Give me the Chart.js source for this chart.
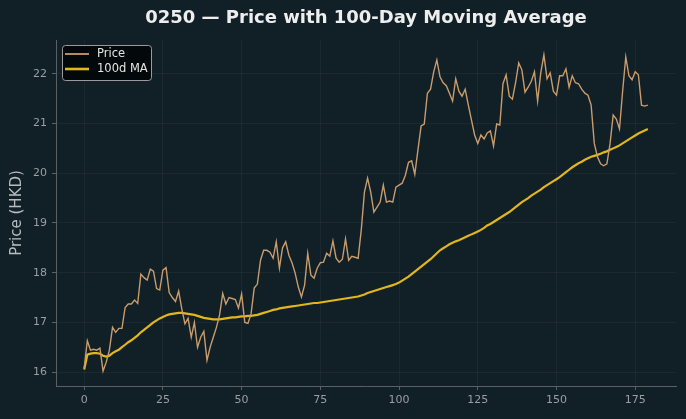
<!DOCTYPE html>
<html>
<head>
<meta charset="utf-8">
<script src="https://cdn.jsdelivr.net/npm/chart.js@4"></script>
<style>
  html, body { margin: 0; padding: 0; background: #111f27; }
  #wrap { width: 686px; height: 419px; }
</style>
</head>
<body>
<div id="wrap"><canvas id="myChart" width="686" height="419"></canvas></div>
<script>
// dias de negociacion (eje x)
const days = Array.from({ length: 180 }, (_, i) => i);

// precio de cierre
const price = [
  16.08, 16.63, 16.44, 16.46, 16.44, 16.48, 16.02, 16.2, 16.44, 16.9,
  16.8, 16.88, 16.88, 17.3, 17.37, 17.37, 17.45, 17.38, 17.97, 17.9,
  17.85, 18.07, 18.03, 17.68, 17.65, 18.05, 18.1, 17.6, 17.5, 17.42,
  17.63, 17.27, 16.97, 17.08, 16.7, 17.0, 16.5, 16.7, 16.82, 16.24,
  16.5, 16.7, 16.9, 17.15, 17.58, 17.37, 17.5, 17.48, 17.46, 17.29,
  17.57, 17.0, 16.98, 17.17, 17.69, 17.77, 18.25, 18.45, 18.45, 18.41,
  18.29, 18.62, 18.09, 18.5, 18.62, 18.35, 18.2, 17.99, 17.71, 17.51,
  17.75, 18.39, 17.95, 17.89, 18.09, 18.2, 18.21, 18.39, 18.33, 18.64,
  18.29, 18.21, 18.27, 18.68, 18.25, 18.33, 18.31, 18.29, 18.86, 19.62,
  19.9, 19.62, 19.22, 19.32, 19.42, 19.76, 19.42, 19.44, 19.42, 19.72,
  19.76, 19.8, 19.96, 20.22, 20.25, 19.98, 20.47, 20.95, 20.99, 21.61,
  21.69, 22.04, 22.28, 21.94, 21.82, 21.76, 21.61, 21.45, 21.9, 21.65,
  21.55, 21.69, 21.37, 21.07, 20.77, 20.6, 20.77, 20.69, 20.81, 20.85,
  20.55, 20.99, 20.97, 21.8, 21.98, 21.55, 21.49, 21.82, 22.22, 22.08,
  21.63, 21.73, 21.85, 22.04, 21.45, 22.02, 22.38, 21.9, 22.02, 21.65,
  21.57, 21.96, 21.96, 22.1, 21.73, 21.96, 21.82, 21.8, 21.69, 21.61,
  21.57, 21.37, 20.6, 20.33, 20.19, 20.15, 20.19, 20.59, 21.17, 21.09,
  20.89, 21.65, 22.34, 21.96, 21.88, 22.04, 21.98, 21.37, 21.35, 21.37,
];

// media movil de 100 dias
const ma100 = [
  16.05, 16.35, 16.37, 16.38, 16.38, 16.37, 16.33, 16.31, 16.33, 16.38,
  16.42, 16.45, 16.5, 16.55, 16.6, 16.64, 16.69, 16.74, 16.8, 16.85,
  16.9, 16.95, 17.0, 17.04, 17.08, 17.11, 17.14, 17.16, 17.17, 17.18,
  17.19, 17.19, 17.18, 17.17, 17.16, 17.15, 17.13, 17.11, 17.09, 17.08,
  17.07, 17.06, 17.06, 17.06, 17.07, 17.08, 17.09, 17.1, 17.1, 17.11,
  17.12, 17.12, 17.13, 17.13, 17.14, 17.15, 17.17, 17.19, 17.21, 17.23,
  17.25, 17.26, 17.28, 17.29, 17.3, 17.31, 17.32, 17.33, 17.34, 17.35,
  17.36, 17.37, 17.38, 17.39, 17.39, 17.4, 17.41, 17.42, 17.43, 17.44,
  17.45, 17.46, 17.47, 17.48, 17.49, 17.5, 17.51, 17.52, 17.54, 17.56,
  17.59, 17.61, 17.63, 17.65, 17.67, 17.69, 17.71, 17.73, 17.75, 17.77,
  17.8, 17.84, 17.88, 17.92, 17.97, 18.02, 18.07, 18.12, 18.17, 18.22,
  18.27, 18.33, 18.39, 18.45, 18.49, 18.53, 18.57, 18.6, 18.63, 18.65,
  18.68, 18.71, 18.74, 18.77, 18.8, 18.83, 18.86, 18.9, 18.95, 18.98,
  19.02, 19.06, 19.1, 19.14, 19.18, 19.22, 19.27, 19.32, 19.37, 19.42,
  19.46, 19.5, 19.55, 19.59, 19.63, 19.67, 19.72, 19.76, 19.8, 19.84,
  19.88, 19.92, 19.97, 20.02, 20.07, 20.12, 20.16, 20.2, 20.23, 20.27,
  20.3, 20.33, 20.35, 20.37, 20.39, 20.42, 20.44, 20.47, 20.5, 20.53,
  20.56, 20.6, 20.64, 20.68, 20.72, 20.76, 20.8, 20.83, 20.86, 20.89,
];

const xTicks = [0, 25, 50, 75, 100, 125, 150, 175];
const yTicks = [16, 17, 18, 19, 20, 21, 22];

const chartTitle = '0250 \u2014 Price with 100-Day Moving Average';
const yTitle = 'Price (HKD)';

const priceColor = '#c89c6c';
const maColor = '#e2b71c';
const tickColor = '#9a9fa2';
const gridColor = 'rgba(255,255,255,0.045)';
const spineColor = '#5a6165';

// titulo centrado sobre el area del grafico + leyenda arriba a la izquierda
const overlay = {
  id: 'overlay',
  afterDraw(chart) {
    const ctx = chart.ctx;
    const area = chart.chartArea;
    ctx.save();
    ctx.fillStyle = '#eeeeee';
    ctx.font = 'bold 18px "DejaVu Sans"';
    ctx.textAlign = 'center';
    ctx.textBaseline = 'middle';
    ctx.fillText(chartTitle, (area.left + area.right) / 2, 18);

    // caja de la leyenda
    const bx = 62.5, by = 45.5, bw = 89, bh = 35;
    ctx.beginPath();
    ctx.roundRect(bx, by, bw, bh, 3);
    ctx.fillStyle = '#03080b';
    ctx.fill();
    ctx.strokeStyle = '#9b9b9b';
    ctx.lineWidth = 1;
    ctx.stroke();

    ctx.font = '11.5px "DejaVu Sans"';
    ctx.textAlign = 'left';
    chart.data.datasets.forEach((ds, k) => {
      const y = 54 + k * 15;
      ctx.beginPath();
      ctx.moveTo(65, y);
      ctx.lineTo(89, y);
      ctx.strokeStyle = ds.borderColor;
      ctx.lineWidth = ds.borderWidth + 0.4;
      ctx.stroke();
      ctx.fillStyle = '#e4e4e4';
      ctx.fillText(ds.label, 97, y + 0.5);
    });
    ctx.restore();
  },
};

const data = {
  datasets: [
    {
      label: 'Price',
      data: days.map((d, i) => ({ x: d, y: price[i] })),
      borderColor: priceColor,
      borderWidth: 1.4,
      pointRadius: 0,
      tension: 0,
    },
    {
      label: '100d MA',
      data: days.map((d, i) => ({ x: d, y: ma100[i] })),
      borderColor: maColor,
      borderWidth: 2.2,
      pointRadius: 0,
      tension: 0,
    },
  ],
};

const config = {
  type: 'line',
  data: data,
  options: {
    responsive: false,
    animation: false,
    layout: { padding: { top: 40, right: 10, bottom: 0, left: 0 } },
    plugins: {
      legend: { display: false },
      title: { display: false },
      tooltip: { enabled: false },
    },
    scales: {
      x: {
        type: 'linear',
        min: -8.95,
        max: 187.95,
        afterBuildTicks: (axis) => { axis.ticks = xTicks.map((v) => ({ value: v })); },
        afterFit: (scale) => { scale.height = 33; },
        ticks: {
          color: tickColor,
          font: { family: 'DejaVu Sans', size: 11 },
          padding: 4,
          maxRotation: 0,
        },
        grid: { color: gridColor, tickColor: spineColor, tickLength: 4 },
        border: { color: spineColor, width: 1 },
      },
      y: {
        type: 'linear',
        min: 15.72,
        max: 22.68,
        afterBuildTicks: (axis) => { axis.ticks = yTicks.map((v) => ({ value: v })); },
        afterFit: (scale) => { scale.width = 56; },
        ticks: {
          color: tickColor,
          font: { family: 'DejaVu Sans', size: 11 },
          padding: 5,
        },
        grid: { color: gridColor, tickColor: spineColor, tickLength: 4 },
        border: { color: spineColor, width: 1 },
        title: {
          display: true,
          text: yTitle,
          color: '#b8bcbe',
          font: { family: 'DejaVu Sans', size: 15 },
          padding: { top: 8, bottom: 0 },
        },
      },
    },
  },
  plugins: [overlay],
};

const myChart = new Chart(document.getElementById('myChart'), config);
</script>
</body>
</html>
